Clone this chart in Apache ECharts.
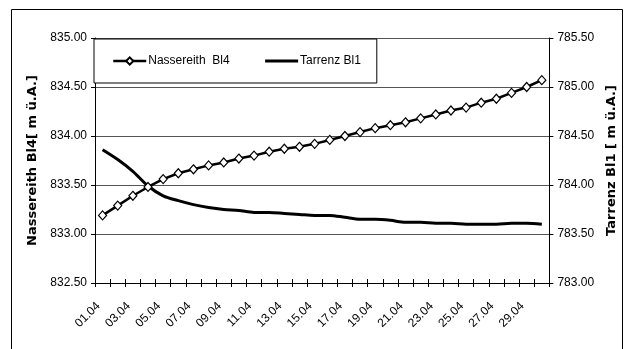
<!DOCTYPE html>
<html>
<head>
<meta charset="utf-8">
<script src="https://cdn.jsdelivr.net/npm/echarts@6/dist/echarts.min.js"></script>
<style>
  html, body { margin: 0; padding: 0; background: #fff; }
  #chart { width: 626px; height: 349px; }
</style>
</head>
<body>
<div id="chart"></div>
<script>
const dates = ['01.04', '02.04', '03.04', '04.04', '05.04', '06.04', '07.04', '08.04', '09.04', '10.04',
  '11.04', '12.04', '13.04', '14.04', '15.04', '16.04', '17.04', '18.04', '19.04', '20.04',
  '21.04', '22.04', '23.04', '24.04', '25.04', '26.04', '27.04', '28.04', '29.04', '30.04']

// Nassereith Bl4, left axis [m ü.A.]
const nassereith = [833.19, 833.29, 833.39, 833.48, 833.56, 833.62, 833.66, 833.70, 833.73, 833.77,
  833.80, 833.84, 833.87, 833.89, 833.92, 833.96, 834.00, 834.04, 834.08, 834.11,
  834.14, 834.18, 834.22, 834.26, 834.29, 834.34, 834.38, 834.44, 834.50, 834.57]

// Tarrenz Bl1, right axis [m ü.A.]
const tarrenz = [784.36, 784.26, 784.14, 783.99, 783.89, 783.84, 783.80, 783.77, 783.75, 783.74,
  783.72, 783.72, 783.71, 783.70, 783.69, 783.69, 783.67, 783.65, 783.65, 783.64,
  783.62, 783.62, 783.61, 783.61, 783.60, 783.60, 783.60, 783.61, 783.61, 783.60]

const leftName = 'Nassereith Bl4[ m ü.A.]'
const rightName = 'Tarrenz Bl1 [ m ü.A.]'

const font = 'Liberation Sans, Arial, sans-serif'

const chart = echarts.init(document.getElementById('chart'), null, {renderer: 'canvas'})

const yAxisBase = {
  type: 'value',
  interval: 0.5,
  nameLocation: 'middle',
  nameRotate: 90,
  nameGap: 52,
  nameTextStyle: {fontFamily: 'DejaVu Sans', fontWeight: 'bold', fontSize: 13, color: '#000'},
  axisLine: {show: true, lineStyle: {color: '#000', width: 1}},
  axisTick: {show: true, length: 4, lineStyle: {color: '#000'}},
  axisLabel: {
    fontFamily: font, fontSize: 12, color: '#000', margin: 8,
    formatter: (v) => v.toFixed(2)
  }
}

const option = {
  animation: false,
  backgroundColor: '#fff',
  grid: {left: 95, right: 76, top: 38, bottom: 66},
  graphic: [{
    type: 'rect',
    shape: {x: 11.5, y: 9.5, width: 611, height: 350},
    style: {fill: 'none', stroke: '#000', lineWidth: 1},
    silent: true
  }],
  legend: {
    left: 94,
    top: 39,
    orient: 'horizontal',
    padding: [16, 16, 16, 18],
    itemGap: 34,
    itemWidth: 33,
    itemHeight: 9,
    backgroundColor: '#fff',
    borderColor: '#000',
    borderWidth: 1,
    textStyle: {fontFamily: font, fontSize: 12, color: '#000', padding: [0, 0, 0, -3]},
    data: [
      {name: 'Nassereith  Bl4', lineStyle: {width: 2.5}},
      {name: 'Tarrenz Bl1', lineStyle: {width: 3}, itemStyle: {opacity: 0}}
    ]
  },
  xAxis: [{
    type: 'category',
    data: dates,
    boundaryGap: true,
    axisLine: {show: true, lineStyle: {color: '#000', width: 1}},
    axisTick: {show: true, interval: 0, length: 4, lineStyle: {color: '#000'}},
    axisLabel: {
      interval: 1, rotate: 45, margin: 17, padding: [0, 6, 0, 0],
      fontFamily: font, fontSize: 12, color: '#000'
    },
    splitLine: {show: false}
  }, {
    // inner half of the crossing x ticks
    type: 'category',
    data: dates,
    position: 'bottom',
    boundaryGap: true,
    axisLine: {show: false},
    axisTick: {show: true, inside: true, interval: 0, length: 4, lineStyle: {color: '#000'}},
    axisLabel: {show: false},
    splitLine: {show: false}
  }],
  yAxis: [
    Object.assign({}, yAxisBase, {
      name: leftName,
      position: 'left',
      min: 832.5,
      max: 835,
      splitLine: {show: true, lineStyle: {color: '#555', width: 1}}
    }),
    Object.assign({}, yAxisBase, {
      name: rightName,
      position: 'right',
      min: 783,
      max: 785.5,
      splitLine: {show: false}
    })
  ],
  series: [{
    name: 'Nassereith  Bl4',
    type: 'line',
    yAxisIndex: 0,
    data: nassereith,
    symbol: 'diamond',
    symbolSize: [8, 9],
    showAllSymbol: true,
    lineStyle: {color: '#000', width: 2.5},
    itemStyle: {color: '#fff', borderColor: '#000', borderWidth: 1.2},
    z: 3
  }, {
    name: 'Tarrenz Bl1',
    type: 'line',
    yAxisIndex: 1,
    data: tarrenz,
    smooth: 0.3,
    symbol: 'none',
    lineStyle: {color: '#000', width: 3},
    itemStyle: {color: '#000'},
    z: 2
  }]
}

chart.setOption(option)
</script>
</body>
</html>
